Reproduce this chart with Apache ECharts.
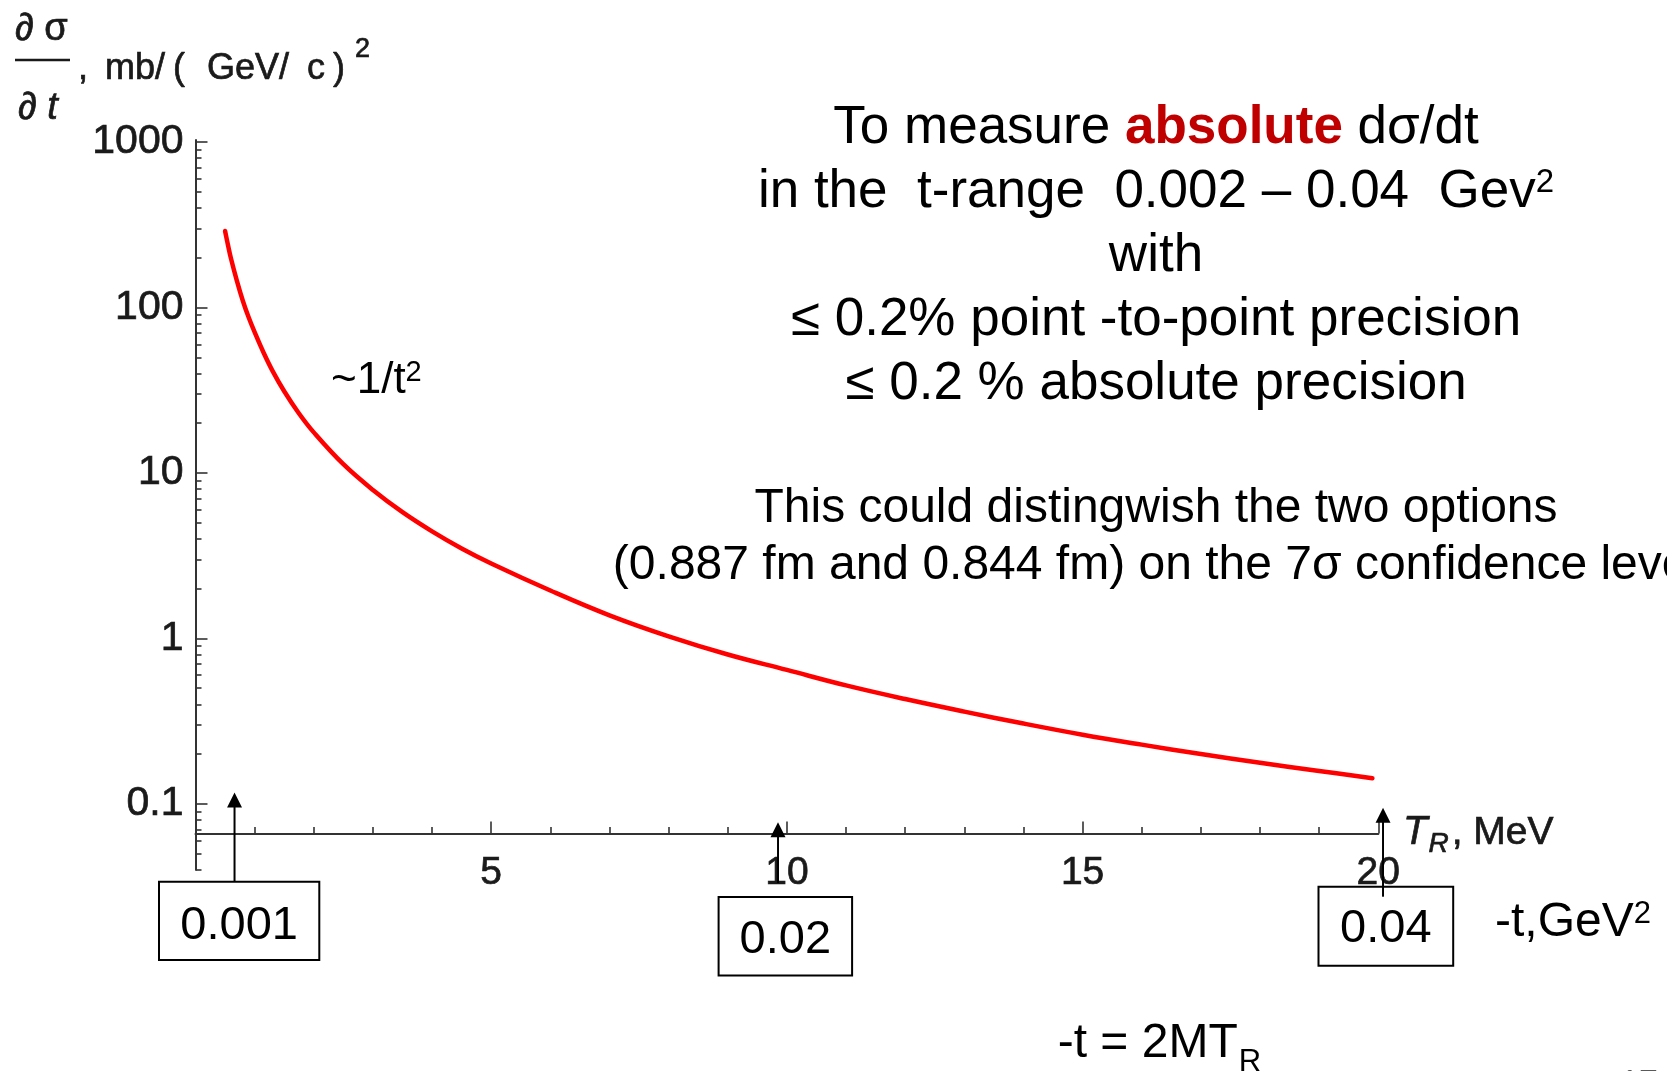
<!DOCTYPE html>
<html>
<head>
<meta charset="utf-8">
<script src="https://cdn.jsdelivr.net/npm/echarts@6/dist/echarts.min.js"></script>
<style>
  html, body { margin: 0; padding: 0; background: #ffffff; }
  #chart { width: 1667px; height: 1071px; }
</style>
</head>
<body>
<div id="chart"></div>
<script>
// Recoil kinetic energy T_R, MeV
const recoilEnergy = [0.5, 0.55, 0.6, 0.7, 0.8, 0.9, 1.0, 1.15, 1.3, 1.5, 1.75, 2.0, 2.5, 3.0, 3.5,
  4.0, 4.5, 5.0, 6.0, 7.0, 8.0, 9.0, 10, 11, 12, 13, 14, 15, 16, 17, 18, 19, 19.9];
// Differential cross-section dσ/dt, mb/(GeV/c)^2
const crossSection = [290, 238, 198, 145, 110, 87, 71, 53.5, 41.6, 31.2, 22.9, 17.6, 11.3, 7.9, 5.8,
  4.44, 3.5, 2.84, 1.95, 1.38, 1.03, 0.80, 0.645, 0.52, 0.43, 0.361, 0.306, 0.262, 0.228, 0.200,
  0.177, 0.158, 0.143];

// Axis ranges and tick values
const T_MIN = 0, T_MAX = 20, T_STEP = 5;
const Y_MIN = 0.04, Y_MAX = 1030;
const yMajorTicks = [0.1, 1, 10, 100, 1000];
const yMinorTicks = [0.04, 0.05, 0.06, 0.07, 0.08, 0.09,
  0.2, 0.3, 0.4, 0.5, 0.6, 0.7, 0.8, 0.9,
  2, 3, 4, 5, 6, 7, 8, 9,
  20, 30, 40, 50, 60, 70, 80, 90,
  200, 300, 400, 500, 600, 700, 800, 900];
// the T_R axis crosses the dσ/dt axis at this value
const X_AXIS_AT = 0.0663;

// -t markers, GeV^2, pointing at the recoil-energy axis
const markerLabels = ['0.001', '0.02', '0.04'];
const markerT = [0.66, 9.85, 20.08];
const markerTip = [0.1172, 0.0775, 0.0946];

const FONT = '"Liberation Sans", Arial, Helvetica, sans-serif';
const AXIS_INK = '#333333';
const LABEL_INK = '#1a1a1a';

const chart = echarts.init(document.getElementById('chart'), null, { renderer: 'canvas' });

const tickStyle = { color: AXIS_INK, width: 1.6 };
const heavyLabel = { textBorderColor: LABEL_INK, textBorderWidth: 0.7 };

chart.setOption({
  animation: false,
  backgroundColor: '#ffffff',
  grid: { left: 195.5, right: 288.7, top: 140, bottom: 201.3, containLabel: false, outerBoundsMode: 'none' },
  xAxis: {
    type: 'value', min: T_MIN, max: T_MAX, interval: T_STEP,
    axisLine: { show: true, onZero: false, lineStyle: { color: AXIS_INK, width: 2 } },
    axisTick: { show: true, inside: true, length: 12, lineStyle: tickStyle },
    minorTick: { show: true, splitNumber: 5, length: 6.5, lineStyle: tickStyle },
    axisLabel: Object.assign({
      show: true, margin: 20, fontSize: 39, fontFamily: FONT, color: LABEL_INK,
      formatter: v => (v === 0 ? '' : String(v))
    }, heavyLabel),
    splitLine: { show: false }, minorSplitLine: { show: false }
  },
  yAxis: [
    {
      type: 'log', logBase: 10, min: Y_MIN, max: Y_MAX, position: 'left',
      axisLine: { show: true, lineStyle: { color: AXIS_INK, width: 2 } },
      axisTick: { show: true, inside: true, length: 12, customValues: yMajorTicks, lineStyle: tickStyle },
      axisLabel: Object.assign({
        show: true, customValues: yMajorTicks, margin: 12, fontSize: 41, fontFamily: FONT, color: LABEL_INK,
        formatter: v => String(+(+v).toPrecision(3))
      }, heavyLabel),
      splitLine: { show: false }, minorTick: { show: false }
    },
    {
      type: 'log', logBase: 10, min: Y_MIN, max: Y_MAX, position: 'left',
      axisLine: { show: false },
      axisTick: { show: true, inside: true, length: 6, customValues: yMinorTicks, lineStyle: tickStyle },
      axisLabel: { show: false },
      splitLine: { show: false }
    }
  ],
  series: [{
    type: 'line',
    data: recoilEnergy.map((t, i) => [t, crossSection[i]]),
    xAxisIndex: 0, yAxisIndex: 0,
    showSymbol: false, smooth: 0.4, silent: true, z: 3,
    lineStyle: { color: '#ff0000', width: 4.5, cap: 'round', join: 'round' }
  }]
});

// move the T_R axis up to its crossing value on the log axis
const gridBottomPx = chart.convertToPixel({ yAxisIndex: 0 }, Y_MIN);
const crossPx = chart.convertToPixel({ yAxisIndex: 0 }, X_AXIS_AT);
const xAxisOffset = crossPx - gridBottomPx;

// text measuring for sub/superscript placement
const measureCtx = document.createElement('canvas').getContext('2d');
function textWidth(str, size, style) {
  measureCtx.font = (style || '') + ' ' + size + 'px ' + FONT;
  return measureCtx.measureText(str).width;
}

function txt(text, x, y, size, opts) {
  opts = opts || {};
  const align = opts.align || 'left';
  return {
    type: 'text', x: x, y: y, z: 20, silent: true,
    style: Object.assign({
      text: text, fontSize: size, fontFamily: FONT, fill: opts.fill || '#000000',
      fontWeight: opts.weight || 'normal', fontStyle: opts.style || 'normal',
      align: align, textAlign: align, verticalAlign: 'middle', textVerticalAlign: 'middle'
    }, opts.rich ? { rich: opts.rich } : {}, opts.heavy ? { stroke: LABEL_INK, lineWidth: 0.7 } : {})
  };
}
function supRich(size) {
  return { sup: { fontSize: size, fontFamily: FONT, fill: '#000000', verticalAlign: 'top' } };
}

const graphics = [];

// y-axis title: ∂σ/∂t , mb/(GeV/c)^2
graphics.push(txt('∂ σ', 15, 29.5, 38, { fill: LABEL_INK, heavy: true }));
graphics.push({ type: 'line', z: 20, silent: true, shape: { x1: 15, y1: 60, x2: 70, y2: 60 }, style: { stroke: LABEL_INK, lineWidth: 2.5 } });
graphics.push(txt('∂', 18, 108.5, 38, { fill: LABEL_INK, heavy: true }));
graphics.push(txt('t', 18 + textWidth('∂ ', 38), 108.5, 38, { fill: LABEL_INK, style: 'italic', heavy: true }));
[[',', 78], ['mb/', 105], ['(', 173], ['GeV/', 207], ['c', 307], [')', 333]].forEach(p => {
  graphics.push(txt(p[0], p[1], 69, 36, { fill: LABEL_INK, heavy: true }));
});
graphics.push(txt('2', 355, 50, 27, { fill: LABEL_INK, heavy: true }));

// x-axis title: T_R , MeV
const tX = 1403;
graphics.push(txt('T', tX, 833.3, 40, { fill: LABEL_INK, style: 'italic', heavy: true }));
const rX = tX + textWidth('T', 40, 'italic') + 1;
graphics.push(txt('R', rX, 844.6, 28, { fill: LABEL_INK, style: 'italic', heavy: true }));
graphics.push(txt(', MeV', rX + textWidth('R', 28, 'italic') + 3, 833.3, 39, { fill: LABEL_INK, heavy: true }));

// trend note
graphics.push(txt('~1/t{sup|2}', 331, 380.9, 44, { rich: supRich(29) }));

// measurement goals
const CX = 1156;
const goalRich = Object.assign(
  { red: { fill: '#c00000', fontWeight: 'bold', fontSize: 53, fontFamily: FONT } }, supRich(33));
graphics.push(txt('To measure {red|absolute} dσ/dt', CX, 128, 53, { align: 'center', rich: goalRich }));
graphics.push(txt('in the  t-range  0.002 – 0.04  Gev{sup|2}', CX, 192.5, 53, { align: 'center', rich: goalRich }));
graphics.push(txt('with', CX, 256.5, 53, { align: 'center' }));
graphics.push(txt('≤ 0.2% point -to-point precision', CX, 320, 53, { align: 'center' }));
graphics.push(txt('≤ 0.2 % absolute precision', CX, 384, 53, { align: 'center' }));
graphics.push(txt('This could distingwish the two options', CX, 508.5, 48, { align: 'center' }));
graphics.push(txt('(0.887 fm and 0.844 fm) on the 7σ confidence level', CX, 565.5, 48, { align: 'center' }));

// -t boxes and arrows
const boxes = [
  { x: 159, y: 881.7, w: 160.3, h: 78.3, textY: 926.4, tail: 881.7 },
  { x: 718.6, y: 897, w: 133.5, h: 78.5, textY: 939.9, tail: 883 },
  { x: 1318.5, y: 886.7, w: 134.7, h: 79, textY: 928.7, tail: 896.7 }
];
boxes.forEach((b, i) => {
  graphics.push({ type: 'rect', z: 20, silent: true, shape: { x: b.x, y: b.y, width: b.w, height: b.h },
    style: { fill: 'transparent', stroke: '#000000', lineWidth: 2 } });
  graphics.push(txt(markerLabels[i], b.x + b.w / 2, b.textY, 47, { align: 'center' }));
  const ax = chart.convertToPixel({ xAxisIndex: 0 }, markerT[i]);
  const tip = chart.convertToPixel({ yAxisIndex: 0 }, markerTip[i]);
  graphics.push({ type: 'line', z: 21, silent: true, shape: { x1: ax, y1: b.tail, x2: ax, y2: tip + 12 },
    style: { stroke: '#000000', lineWidth: 2 } });
  graphics.push({ type: 'polygon', z: 21, silent: true,
    shape: { points: [[ax, tip], [ax - 7.5, tip + 15], [ax + 7.5, tip + 15]] },
    style: { fill: '#000000' } });
});

graphics.push(txt('-t,GeV{sup|2}', 1495, 922.6, 48, { rich: supRich(31) }));

// -t = 2 M T_R
graphics.push(txt('-t = 2MT', 1057.7, 1043.4, 48));
graphics.push(txt('R', 1057.7 + textWidth('-t = 2MT', 48) + 1, 1062.9, 31));

// slide number
graphics.push(txt('17', 1620, 1084, 34, { fill: '#595959' }));

chart.setOption({ xAxis: { offset: xAxisOffset }, graphic: graphics });
</script>
</body>
</html>
